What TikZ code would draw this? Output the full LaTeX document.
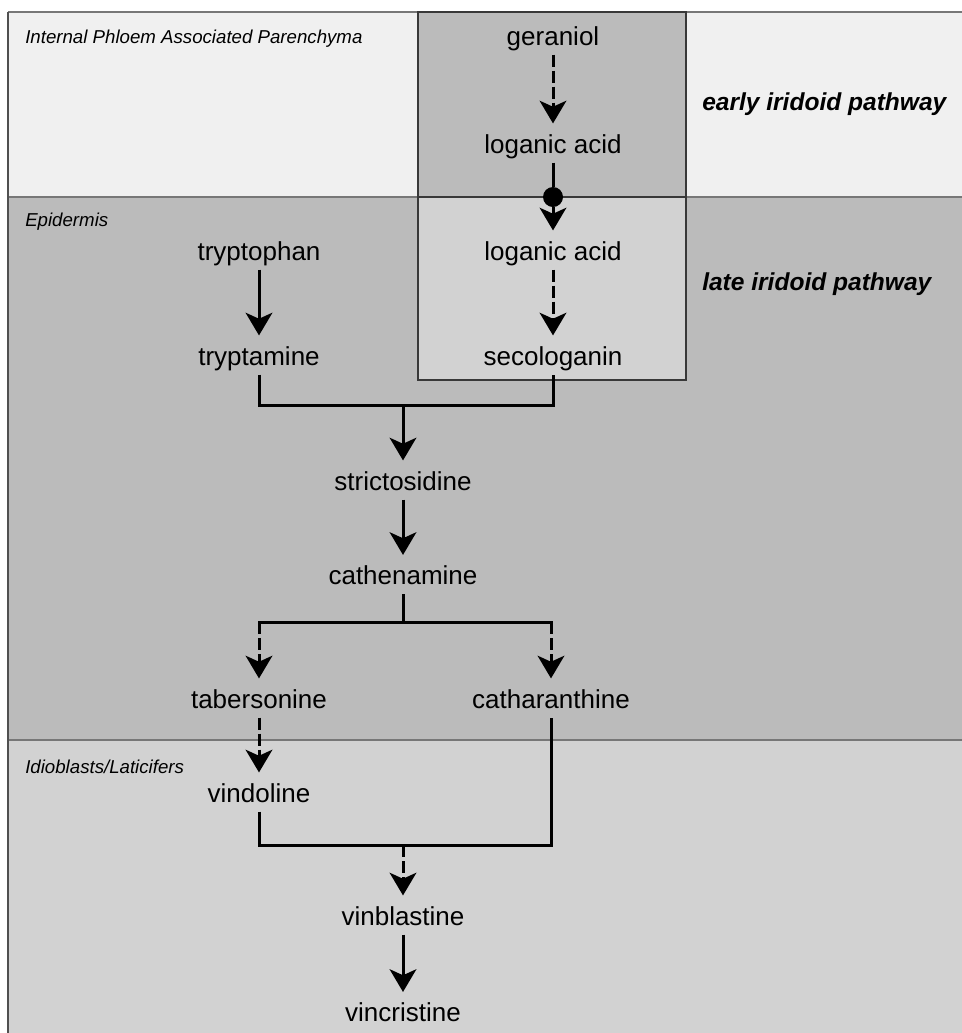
\documentclass[tikz,border=0pt]{standalone}
\usepackage{fontspec}
\setmainfont{Liberation Sans}
\usepackage{tikz}
\usetikzlibrary{arrows.meta}

\definecolor{phloemgray}{HTML}{F0F0F0}
\definecolor{epigray}{HTML}{BBBBBB}
\definecolor{idiogray}{HTML}{D2D2D2}
\definecolor{rulegray}{HTML}{777777}
\definecolor{edgegray}{HTML}{505050}

\tikzset{
  compound/.style={inner sep=0pt, outer ysep=3pt, text height=14pt, text depth=4.1pt, font=\fontsize{19.5}{22}\selectfont},
  region/.style={anchor=base west, inner sep=0pt, font=\fontsize{14}{16}\selectfont\itshape},
  pathway/.style={anchor=base west, inner sep=0pt, font=\fontsize{18.4}{20}\selectfont\bfseries\itshape},
  gate/.style={circle, fill=black, inner sep=0pt, minimum size=15pt},
  link/.style={line width=2.25pt},
  solidstep/.style={link, -{Stealth[length=17pt,width=20pt,inset=4.5pt]}, shorten >=5.25pt},
  dashstep/.style={solidstep, dash pattern=on 9pt off 3pt},
}

\newcommand{\pwcompound}[3] {\node [compound] at (#1) (#2) {#3};}
\newcommand{\pwstep}[2] {\draw [solidstep] (#1) -- (#2);}
\newcommand{\pwdashstep}[2] {\draw [dashstep] (#1) -- (#2);}

\begin{document}
\begin{tikzpicture}[x=0.75pt, y=-0.75pt]
\useasboundingbox [fill=white] (0,0) rectangle (962,1033);

% cell layers
\fill [phloemgray] (8,12) rectangle (962,197);
\fill [epigray] (8,197) rectangle (962,740);
\fill [idiogray] (8,740) rectangle (962,1033);
\draw [rulegray, line width=1.1pt] (8,12) -- (962,12);
\draw [rulegray, line width=1.1pt] (8,197) -- (962,197);
\draw [rulegray, line width=1.1pt] (8,740) -- (962,740);
\draw [edgegray, line width=1.1pt] (8,12) -- (8,1033);

% iridoid box
\fill [epigray] (418,12) rectangle (686,197);
\fill [idiogray] (418,197) rectangle (686,380);
\draw [edgegray!70!black, line width=1.1pt] (418,12) rectangle (686,380);
\draw [edgegray!70!black, line width=1.1pt] (418,197) -- (686,197);

\node [region] (lblIPAP) at (25,43) {Internal Phloem Associated Parenchyma};
\node [region] (lblEpi) at (25,226) {Epidermis};
\node [region] (lblIdio) at (25,773) {Idioblasts/Laticifers};
\node [pathway] (lblEarly) at (702,110) {early iridoid pathway};
\node [pathway] (lblLate) at (702,290) {late iridoid pathway};

\pwcompound {553,38.5} {geraniol} {geraniol};
\pwcompound {553,146.5} {loganicA} {loganic acid};
\pwcompound {553,253.5} {loganicB} {loganic acid};
\pwcompound {553,358.5} {secologanin} {secologanin};
\pwcompound {259,253.5} {tryptophan} {tryptophan};
\pwcompound {259,358.5} {tryptamine} {tryptamine};
\pwcompound {403,483.5} {strictosidine} {strictosidine};
\pwcompound {403,578} {cathenamine} {cathenamine};
\pwcompound {259,701.5} {tabersonine} {tabersonine};
\pwcompound {551,701.5} {catharanthine} {catharanthine};
\pwcompound {259,795.5} {vindoline} {vindoline};
\pwcompound {403,918.5} {vinblastine} {vinblastine};
\pwcompound {403,1015} {vincristine} {vincristine};

\node [gate] (transport) at (553,197) {};
\coordinate (joinSTR) at (403,405);
\coordinate (joinCAT) at (403,622);
\coordinate (joinVIN) at (403,845);

\pwdashstep{geraniol}{loganicA};
\draw [link] (loganicA) -- (transport);
\pwdashstep{transport}{loganicB};
\pwdashstep{loganicB}{secologanin};
\pwstep{tryptophan}{tryptamine};
\draw [link] (tryptamine) |- (joinSTR) -| (secologanin);
\pwstep{joinSTR}{strictosidine};
\pwstep{strictosidine}{cathenamine};
\draw [link] (cathenamine) -- (joinCAT);
\draw [link, line cap=rect] (tabersonine |- joinCAT) -- (catharanthine |- joinCAT);
\pwdashstep{tabersonine |- joinCAT}{tabersonine};
\pwdashstep{catharanthine |- joinCAT}{catharanthine};
\pwdashstep{tabersonine}{vindoline};
\draw [link] (vindoline) |- (joinVIN) -| (catharanthine);
\pwdashstep{joinVIN}{vinblastine};
\pwstep{vinblastine}{vincristine};

\end{tikzpicture}
\end{document}
